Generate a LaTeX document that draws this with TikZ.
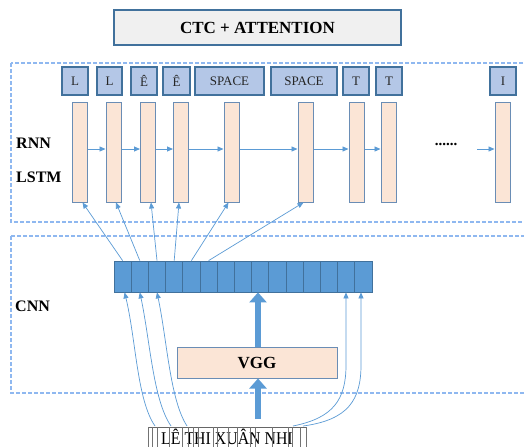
\documentclass[tikz,border=0pt]{standalone}
\usepackage{fontspec}
\setmainfont{Liberation Serif}
\usetikzlibrary{arrows.meta,calc}
\definecolor{bluefill}{HTML}{5B9BD5}
\definecolor{bluedark}{HTML}{41719C}
\definecolor{labfill}{HTML}{B4C7E7}
\definecolor{peach}{HTML}{FBE5D6}
\definecolor{barline}{HTML}{6A8DB5}
\definecolor{dashblue}{HTML}{8FB8F0}
\definecolor{ctcfill}{HTML}{F0F0F0}
\tikzset{
  labbox/.style={draw=bluedark, fill=labfill, line width=1.2pt, minimum height=28pt, inner sep=0pt, font=\fontsize{13}{13}\selectfont, text=black!85},
  barbox/.style={draw=barline, fill=peach, line width=1pt, minimum width=15pt, minimum height=100pt, inner sep=0pt},
  cellbox/.style={draw=bluedark, fill=bluefill, line width=0.8pt, minimum width=17.2pt, minimum height=31pt, inner sep=0pt},
  dashbox/.style={draw=dashblue, line width=1.2pt, dash pattern=on 4pt off 2pt},
  thinarrow/.style={draw=bluefill, line width=0.7pt, -{Triangle[length=6pt,width=5pt]}},
  thickarrow/.style={draw=bluefill, line width=6pt, -{Triangle[length=10pt,width=17pt]}},
  sidelabel/.style={font=\fontsize{16}{16}\selectfont\bfseries, anchor=west, inner sep=0pt},
}
\begin{document}
\begin{tikzpicture}[x=1pt,y=-1pt]
\clip (0,0) rectangle (524,447);
\fill[white] (0,0) rectangle (524,447);
% dashed frames
\draw[dashbox] (11,63) rectangle (540,222);
\draw[dashbox] (11,236) rectangle (540,393);
% CTC box
\node[draw=bluedark, fill=ctcfill, line width=1.5pt, minimum width=287pt, minimum height=35pt, inner sep=0pt,
  font=\fontsize{17}{17}\selectfont\bfseries] (ctc) at (257.5,27.5) {CTC + ATTENTION};
% side labels
\node[sidelabel] (rnn) at (16,143) {RNN};
\node[sidelabel] (lstm) at (16,177) {LSTM};
\node[sidelabel] (cnn) at (15,306) {CNN};
% label boxes
\node[labbox, minimum width=26pt] (l1) at (75,81) {L};
\node[labbox, minimum width=25pt] (l2) at (109.5,81) {L};
\node[labbox, minimum width=26pt] (l3) at (144,81) {Ê};
\node[labbox, minimum width=27pt] (l4) at (176.5,81) {Ê};
\node[labbox, minimum width=69pt] (l5) at (229.5,81) {SPACE};
\node[labbox, minimum width=66pt] (l6) at (304,81) {SPACE};
\node[labbox, minimum width=26pt] (l7) at (356,81) {T};
\node[labbox, minimum width=26pt] (l8) at (389,81) {T};
\node[labbox, minimum width=26pt] (l9) at (503,81) {I};
% LSTM bars
\foreach \n/\x in {1/79.5,2/113.5,3/148,4/181,5/231.5,6/305.5,7/356.5,8/388.5,9/502.5}
  \node[barbox] (b\n) at (\x,152) {};
% horizontal arrows
\foreach \a/\b in {1/2,2/3,3/4,4/5,5/6,6/7,7/8}
  \draw[thinarrow, line width=0.9pt] ($(b\a.east)+(0,-3)$) -- ($(b\b.west)+(0,-3)$);
\node[font=\fontsize{15}{15}\selectfont\bfseries, inner sep=0pt] (dots) at (446,144) {......};
\coordinate (dend) at (477,149);
\draw[thinarrow, line width=0.9pt] (dend) -- ($(b9.west)+(0,-3)$);
% CNN cells
\foreach \i in {1,...,15}
  \node[cellbox] (c\i) at ({114+17.2*(\i-0.5)},276.5) {};
% cells to LSTM
\draw[thinarrow] (c1.north) -- ($(b1.south)+(3,0)$);
\draw[thinarrow] (c2.north) -- ($(b2.south)+(2.5,0)$);
\draw[thinarrow] (c3.north) -- ($(b3.south)+(3,0)$);
\draw[thinarrow] (c4.north) -- ($(b4.south)+(-2,0)$);
\draw[thinarrow] (c5.north) -- ($(b5.south)+(-3,0)$);
\draw[thinarrow] (c6.north) -- ($(b6.south)+(-2,0)$);
% VGG
\node[draw=barline, fill=peach, line width=1pt, minimum width=160pt, minimum height=31pt, inner sep=0pt,
  font=\fontsize{17}{17}\selectfont\bfseries] (vgg) at (257,362.5) {VGG};
\coordinate (ta) at (258,419);
\draw[thickarrow] (ta) -- (vgg.south -| ta);
\draw[thickarrow] (vgg.north -| ta) -- (c9.south -| ta);
% input word image
\node[inner sep=0pt, anchor=base, font=\fontsize{18}{18}\selectfont, text=black, xscale=0.88] (word) at (227,444.5) {LÊ THI XUÂN NHI};
\draw[black!60, line width=0.8pt] (148,427) -- (306,427);
\foreach \x in {148,152,157,169,182,188,193,198,213,217,228,237,250,255,272,288,292,300,306}
  \draw[black!55, line width=0.6pt] (\x,427) -- (\x,447);
% curved connectors from word image to cells
\coordinate (s1) at (155,426);
\coordinate (s2) at (171,426);
\coordinate (s3) at (187,426);
\coordinate (s4) at (293,426);
\coordinate (s5) at (303,426);
\draw[thinarrow] (s1) .. controls (137,400) and (136,340) .. ($(c1.south)+(2,0)$);
\draw[thinarrow] (s2) .. controls (153,400) and (150,340) .. (c2.south);
\draw[thinarrow] (s3) .. controls (170,400) and (167,340) .. (c3.south);
\draw[thinarrow] (s4) .. controls (333,418) and (346,400) .. (346,365) -- (c14.south -| 346,0);
\draw[thinarrow] (s5) .. controls (348,420) and (361,400) .. (361,365) -- (c15.south -| 361,0);
\end{tikzpicture}
\end{document}
